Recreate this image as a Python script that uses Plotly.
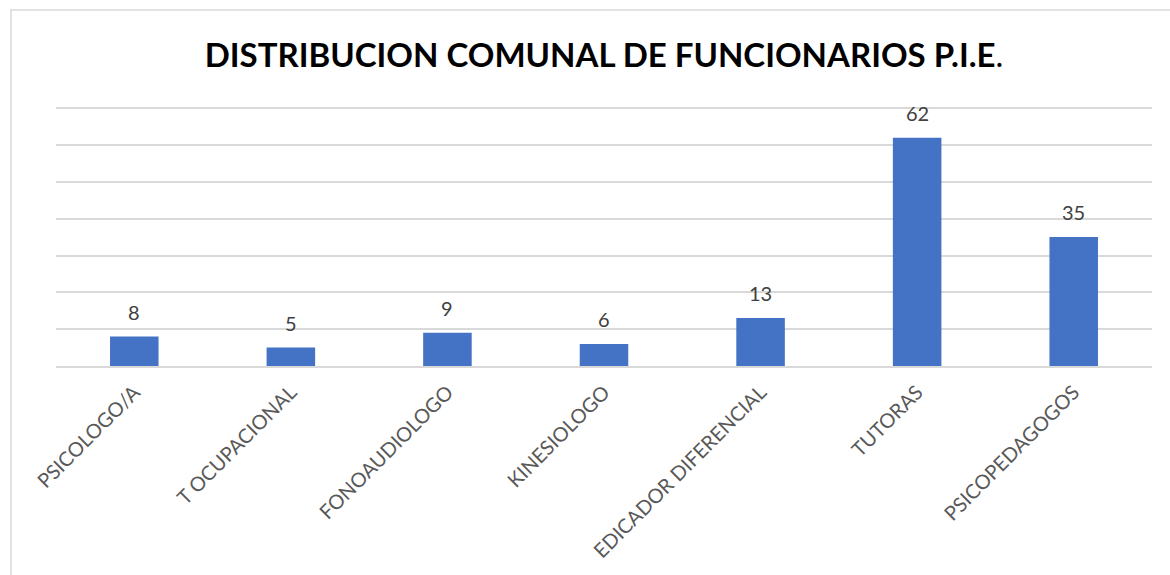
import plotly.graph_objects as go

categories = ["PSICOLOGO/A", "T OCUPACIONAL", "FONOAUDIOLOGO", "KINESIOLOGO",
              "EDICADOR DIFERENCIAL", "TUTORAS", "PSICOPEDAGOGOS"]
values = [8, 5, 9, 6, 13, 62, 35]
grid_values = [10, 20, 30, 40, 50, 60, 70]

W, H = 1170, 575
ML, MR, MT, MB = 56, 18, 106, 209
FONT = "Lato"

fig = go.Figure()
fig.add_trace(go.Bar(
    x=categories, y=values,
    marker=dict(color="#4472C4", line=dict(width=0)),
    width=0.31,
    hoverinfo="x+y",
))

for c, v in zip(categories, values):
    fig.add_annotation(x=c, y=v, text=str(v), showarrow=False,
                       yanchor="bottom", yshift=11,
                       font=dict(family=FONT, size=20, color="#404040"))

pw = W - ML - MR
ph = H - MT - MB
def px_x(p):
    return (p - ML) / pw
def px_y(p):
    return (H - MB - p) / ph

fig.add_shape(type="rect", xref="paper", yref="paper",
              x0=px_x(11), x1=px_x(1175), y0=px_y(580), y1=px_y(10),
              line=dict(color="#d9d9d9", width=1.5), fillcolor="rgba(0,0,0,0)",
              layer="below")

fig.update_layout(
    width=W, height=H,
    margin=dict(l=ML, r=MR, t=MT, b=MB),
    paper_bgcolor="white", plot_bgcolor="white",
    title=dict(text="<b>DISTRIBUCION COMUNAL DE FUNCIONARIOS P.I.E</b>.",
               x=0.5, xref="paper", xanchor="center",
               y=1 - 55 / H, yanchor="middle",
               font=dict(family=FONT, size=33, color="#000000")),
    font=dict(family=FONT),
    showlegend=False,
    bargap=0.69,
)
fig.update_xaxes(tickangle=-45, tickfont=dict(family=FONT, size=20, color="#595959"),
                 showline=True, linecolor="#d9d9d9", linewidth=1.5,
                 ticks="", showgrid=False, ticklabelstandoff=5)
fig.update_yaxes(range=[0, 70.6], tickvals=grid_values,
                 showticklabels=False,
                 gridcolor="#d9d9d9", gridwidth=1.5, zeroline=False,
                 showline=False, ticks="")

fig.write_html("out.html", config={"displayModeBar": False},
               post_script="document.body.style.margin='0';")
